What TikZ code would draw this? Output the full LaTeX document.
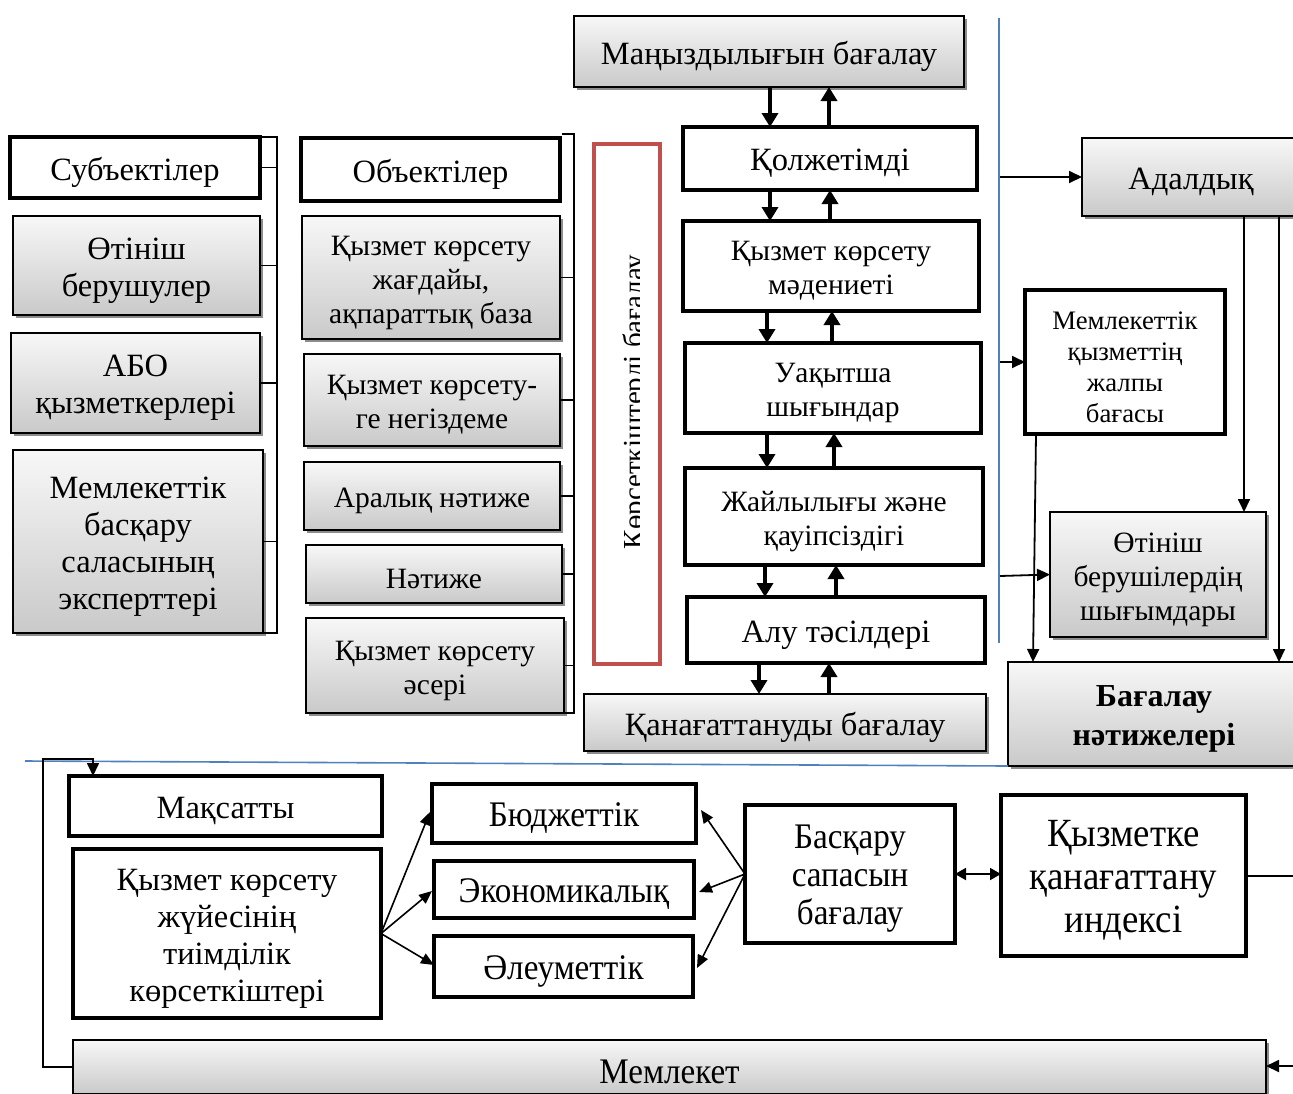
\documentclass[tikz,border=0pt]{standalone}
\usepackage{fontspec}
\setmainfont{Liberation Serif}
\newfontfamily\narrowserif[FakeStretch=0.92]{Liberation Serif}
\usetikzlibrary{arrows.meta,shadows}

% box placed by its corners, with its caption set a little below the centre:
% box style, text style, name, x1, y1, x2, y2, text
\newcommand\cornerbox[8]{%
  \node[#1, minimum width={(#6-#4)*1pt}, minimum height={(#7-#5)*1pt}]
    (#3) at ({(#4+#6)/2},{(#5+#7)/2}) {};
  \node[basetext, #2] (#3-t) at ([yshift=-5pt]#3.center) {#8};}

\tikzset{
  boxbase/.style={inner sep=0pt, outer sep=0pt},
  thickbox/.style={boxbase, draw=black, line width=4.5pt, fill=white},
  graybox/.style={boxbase, draw=black, line width=1.2pt,
    top color=gray!6, bottom color=gray!42,
    drop shadow={shadow xshift=3pt, shadow yshift=-3pt, fill=black, opacity=0.45}},
  redframe/.style={boxbase, draw=framered, line width=4pt, fill=white},
  basetext/.style={align=center, inner sep=0pt, font=\fontsize{32.5}{37}\selectfont},
  normaltext/.style={},
  smalltext/.style={font=\fontsize{29.5}{34}\selectfont},
  tinytext/.style={font=\fontsize{26.7}{31}\selectfont},
  narrowtext/.style={font=\narrowserif\fontsize{36}{38}\selectfont},
  bignarrow/.style={font=\narrowserif\fontsize{40}{43}\selectfont},
  boldtext/.style={font=\bfseries\fontsize{32}{39}\selectfont},
  thickarrow/.style={line width=4pt, -{Triangle[length=14pt,width=16pt]}},
  thinarrow/.style={line width=1.8pt, -{Triangle[length=13pt,width=12pt]}},
  fanarrow/.style={line width=1.6pt, -{Triangle[length=13pt,width=11pt]}},
  bracket/.style={line width=1.4pt},
  blueline/.style={draw={rgb,255:red,79;green,129;blue,189}, line width=1.6pt},
}
\definecolor{framered}{RGB}{192,80,77}

\begin{document}
\begin{tikzpicture}[x=1pt, y=-1pt]
\useasboundingbox (0,0) rectangle (1293,1093);

% ---- subjects column
\cornerbox{thickbox}{normaltext}{sb}{10}{137}{260}{198}{Субъектілер}
\cornerbox{graybox}{normaltext}{s1}{13}{216}{260}{315}{Өтініш\\берушулер}
\cornerbox{graybox}{normaltext}{s2}{11}{333}{260}{433}{АБО\\қызметкерлері}
\cornerbox{graybox}{normaltext}{s3}{13}{450}{263}{633}{Мемлекеттік\\басқару\\саласының\\эксперттері}
\coordinate (lbT) at (277,137);
\coordinate (lbB) at (277,633);
\draw[bracket] (sb.north east) -- (lbT) -- (lbB) -- (s3.south east);
\foreach \b in {sb,s1,s2,s3} \draw[bracket] (\b.east) -- (\b.east -| lbT);

% ---- objects column
\cornerbox{thickbox}{normaltext}{ob}{301}{138}{560}{201}{Объектілер}
\cornerbox{graybox}{smalltext}{o1}{302}{216}{560}{339}{Қызмет көрсету\\жағдайы,\\ақпараттық база}
\cornerbox{graybox}{smalltext}{o2}{304}{354}{560}{446}{Қызмет көрсету-\\ге негіздеме}
\cornerbox{graybox}{smalltext}{o3}{304}{462}{560}{530}{Аралық нәтиже}
\cornerbox{graybox}{smalltext}{o4}{306}{545}{562}{603}{Нәтиже}
\cornerbox{graybox}{smalltext}{o5}{306}{618}{564}{713}{Қызмет көрсету\\әсері}
\coordinate (mbT) at (574,134);
\coordinate (mbB) at (574,713);
\draw[bracket] (562,0 |- mbT) -- (mbT) -- (mbB) -- (o5.south east);
\foreach \b in {o1,o2,o3,o4,o5} \draw[bracket] (\b.east) -- (\b.east -| mbT);

% ---- indicator frame with vertical caption
\node[redframe, minimum width=66pt, minimum height=520pt] (rf) at (627,404) {};
\begin{scope}
  \clip (597,147) rectangle (639,661);
  \node[rotate=90, anchor=base, font=\fontsize{29}{34}\selectfont, inner sep=0pt]
    (rt) at (643,402) {Көрсеткіштерді бағалау};
\end{scope}

% ---- central chain
\cornerbox{graybox}{normaltext}{mz}{574}{16}{964}{87}{Маңыздылығын бағалау}
\cornerbox{thickbox}{normaltext}{q1}{683}{127}{977}{190}{Қолжетімді}
\cornerbox{thickbox}{smalltext}{q2}{683}{221}{979}{311}{Қызмет көрсету\\мәдениеті}
\cornerbox{thickbox}{smalltext}{q3}{685}{343}{981}{433}{Уақытша\\шығындар}
\cornerbox{thickbox}{smalltext}{q4}{685}{468}{983}{565}{Жайлылығы және\\қауіпсіздігі}
\cornerbox{thickbox}{normaltext}{q5}{687}{597}{985}{663}{Алу тәсілдері}
\cornerbox{graybox}{normaltext}{qb}{584}{694}{986}{751}{Қанағаттануды бағалау}

\draw[thickarrow] (770,0 |- mz.south) -- (770,0 |- q1.north);
\draw[thickarrow] (829,0 |- q1.north) -- (829,0 |- mz.south);
\draw[thickarrow] (770,0 |- q1.south) -- (770,0 |- q2.north);
\draw[thickarrow] (830,0 |- q2.north) -- (830,0 |- q1.south);
\draw[thickarrow] (767,0 |- q2.south) -- (767,0 |- q3.north);
\draw[thickarrow] (832,0 |- q3.north) -- (832,0 |- q2.south);
\draw[thickarrow] (767,0 |- q3.south) -- (767,0 |- q4.north);
\draw[thickarrow] (834,0 |- q4.north) -- (834,0 |- q3.south);
\draw[thickarrow] (765,0 |- q4.south) -- (765,0 |- q5.north);
\draw[thickarrow] (836,0 |- q5.north) -- (836,0 |- q4.south);
\draw[thickarrow] (759,0 |- q5.south) -- (759,0 |- qb.north);
\draw[thickarrow] (829,0 |- qb.north) -- (829,0 |- q5.south);

% ---- right part
\coordinate (bT) at (999,18);
\coordinate (bB) at (999,643);
\draw[blueline] (bT) -- (bB);

\cornerbox{graybox}{normaltext}{ad}{1082}{138}{1300}{216}{Адалдық}
\cornerbox{thickbox}{tinytext}{mq}{1025}{290}{1225}{434}{Мемлекеттік\\қызметтің\\жалпы\\бағасы}
\cornerbox{graybox}{smalltext}{ow}{1050}{512}{1266}{637}{Өтініш\\берушілердің\\шығымдары}
\cornerbox{graybox}{boldtext}{bn}{1008}{662}{1300}{766}{Бағалау\\нәтижелері}

\coordinate (b1) at (1000,177);
\coordinate (b2) at (1000,362);
\coordinate (b3) at (1000,576);
\draw[thinarrow] (b1) -- (ad.west);
\draw[thinarrow] (b2) -- (mq.west);
\draw[thinarrow] (b3) -- (ow.west);
\draw[thinarrow] (1244,0 |- ad.south) -- (1244,0 |- ow.north);
\draw[thinarrow] (1279,0 |- ad.south) -- (1279,0 |- bn.north);
\draw[thinarrow] (1036,0 |- mq.south) -- (1033,0 |- bn.north);

\coordinate (hl) at (25,761);
\draw[blueline] (hl) -- (bn.south west);

% ---- bottom part
\cornerbox{thickbox}{normaltext}{mt}{69}{776}{382}{836}{Мақсатты}
\cornerbox{thickbox}{normaltext}{kz}{73}{849}{381}{1018}{Қызмет көрсету\\жүйесінің\\тиімділік\\көрсеткіштері}
\cornerbox{thickbox}{narrowtext}{bj}{432}{784}{696}{843}{Бюджеттік}
\cornerbox{thickbox}{narrowtext}{ek}{434}{861}{694}{918}{Экономикалық}
\cornerbox{thickbox}{narrowtext}{al}{434}{936}{693}{997}{Әлеуметтік}
\cornerbox{thickbox}{narrowtext}{bs}{745}{805}{955}{943}{Басқару\\сапасын\\бағалау}
\cornerbox{thickbox}{bignarrow}{qi}{1001}{795}{1246}{956}{Қызметке\\қанағаттану\\индексі}
\cornerbox{graybox}{narrowtext}{mk}{73}{1040}{1266}{1094}{Мемлекет}

\draw[fanarrow] (kz.east) -- (430,812);
\draw[fanarrow] (kz.east) -- (432,891);
\draw[fanarrow] (kz.east) -- (434,965);
\draw[fanarrow] (bs.west) -- (701,810);
\draw[fanarrow] (bs.west) -- (699,892);
\draw[fanarrow] (bs.west) -- (697,968);
\draw[line width=1.8pt, {Triangle[length=11pt,width=12pt]}-{Triangle[length=11pt,width=12pt]}]
  (bs.east) -- (qi.west |- bs.east);

\coordinate (rOut) at (1293,876);
\coordinate (rIn) at (1293,1066);
\draw[line width=1.8pt] (qi.east |- rOut) -- (rOut);
\draw[thinarrow] (rIn) -- (mk.east |- rIn);

\coordinate (lc) at (43,759);
\draw[thinarrow, line width=1.6pt] (mk.west) -| (lc) -| (93,0 |- mt.north);
\end{tikzpicture}
\end{document}
